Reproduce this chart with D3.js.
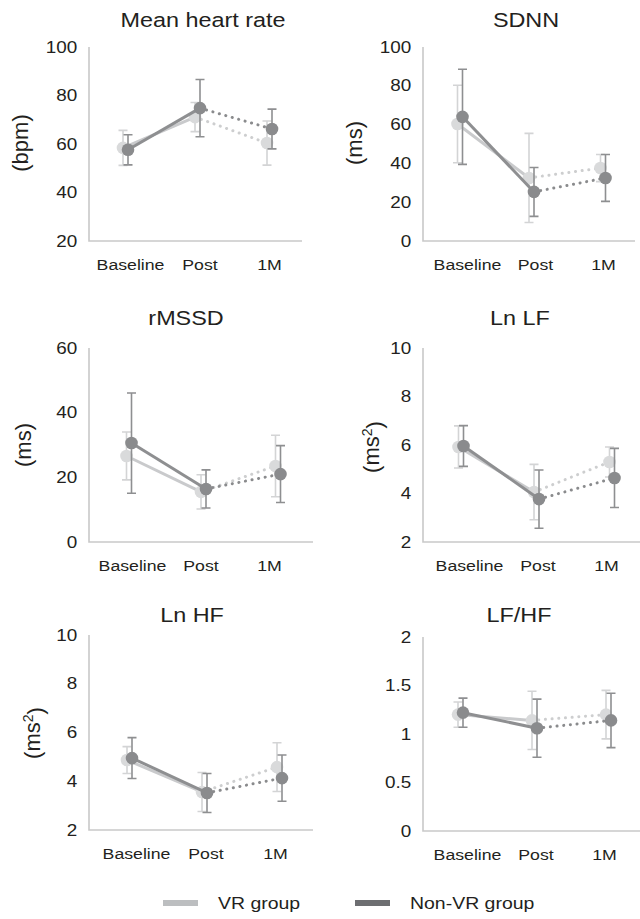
<!DOCTYPE html>
<html>
<head>
<meta charset="utf-8">
<script src="https://cdn.jsdelivr.net/npm/d3@7"></script>
<style>
body { margin: 0; background: #fff; }
text { font-family: "Liberation Sans", Arial, sans-serif; fill: #231f20; }
</style>
</head>
<body>
<div id="chart"></div>
<script>
// chart values
var categories = ["Baseline", "Post", "1M"];
var titles = ["Mean heart rate", "SDNN", "rMSSD", "Ln LF", "Ln HF", "LF/HF"];
var unitBase = ["bpm", "ms", "ms", "ms", "ms", ""];
var unitSup = ["", "", "", "2", "2", ""];
var yTicks = [
    [20, 40, 60, 80, 100],
    [0, 20, 40, 60, 80, 100],
    [0, 20, 40, 60],
    [2, 4, 6, 8, 10],
    [2, 4, 6, 8, 10],
    [0, 0.5, 1, 1.5, 2]
];
var vrMean = [[58.4, 71.1, 60.4], [60.3, 32.5, 37.6], [26.6, 15.5, 23.5], [5.92, 4.06, 5.3], [4.87, 3.56, 4.58], [1.2, 1.14, 1.2]];
var vrSd = [[7.2, 6, 9.1], [20, 23, 7], [7.4, 5.3, 9.5], [0.87, 1.14, 0.62], [0.55, 0.8, 1.0], [0.13, 0.3, 0.25]];
var nonVrMean = [[57.6, 74.8, 66.2], [64, 25.3, 32.5], [30.6, 16.4, 21], [5.96, 3.77, 4.64], [4.95, 3.52, 4.13], [1.22, 1.06, 1.14]];
var nonVrSd = [[6.2, 11.8, 8.2], [24.5, 12.6, 12.1], [15.5, 5.9, 8.8], [0.84, 1.2, 1.22], [0.84, 0.8, 0.95], [0.15, 0.3, 0.28]];
var groupNames = ["VR group", "Non-VR group"];

// panel placement
var layout = [
    { x0: 89, xEnd: 302, top: 47, bottom: 241, first: 125.5, step: 72, lab: [130, 269], tx: 203, ty: 27, ux: 20, uy: 143 },
    { x0: 423, xEnd: 635, top: 47, bottom: 241, first: 460, step: 71.5, lab: [467, 603], tx: 526, ty: 27, ux: 354, uy: 143 },
    { x0: 89, xEnd: 313, top: 348, bottom: 542, first: 129, step: 74.5, lab: [132, 269], tx: 186, ty: 325, ux: 23, uy: 445 },
    { x0: 423, xEnd: 640, top: 348, bottom: 542, first: 461, step: 75.5, lab: [469, 606], tx: 520, ty: 325, ux: 371, uy: 447 },
    { x0: 89, xEnd: 313, top: 635, bottom: 830, first: 129.5, step: 75, lab: [136, 275], tx: 192, ty: 622, ux: 32, uy: 733 },
    { x0: 423, xEnd: 640, top: 637, bottom: 831, first: 460.5, step: 74, lab: [467, 604], tx: 519, ty: 622, ux: 0, uy: 0 }
];

var stretch = "scale(1.18,1)";

var styles = [
    { line: "#c9cacc", dot: "#cdcecf", err: "#d3d4d5", point: "#d9dadb", dx: -2.5 },
    { line: "#8e8f91", dot: "#8a8b8d", err: "#8e8f91", point: "#8a8b8d", dx: 2.5 }
];

var svg = d3.select("#chart").append("svg")
    .attr("width", 640)
    .attr("height", 919)
    .style("background", "#fff");

titles.forEach(function(title, i) {
    var L = layout[i];
    var g = svg.append("g");

    var y = d3.scaleLinear()
        .domain(d3.extent(yTicks[i]))
        .range([L.bottom, L.top]);
    var x = d3.scalePoint()
        .domain(categories)
        .range([L.first, L.first + 2 * L.step]);
    var xLab = d3.scalePoint()
        .domain(categories)
        .range(L.lab);

    // axis lines
    g.append("path")
        .attr("d", "M" + L.x0 + "," + L.top + "V" + L.bottom + "H" + L.xEnd)
        .attr("fill", "none")
        .attr("stroke", "#c9c9c9")
        .attr("stroke-width", 1.6);

    // y tick labels
    var ya = g.append("g")
        .attr("transform", "translate(" + L.x0 + ",0)")
        .call(d3.axisLeft(y).tickValues(yTicks[i]).tickSize(0).tickPadding(10)
            .tickFormat(function(d) { return String(d); }));
    ya.select(".domain").remove();
    ya.selectAll("text")
        .attr("font-size", 16)
        .attr("font-family", null)
        .attr("fill", null)
        .attr("transform", stretch);

    // category labels
    var xa = g.append("g")
        .attr("transform", "translate(0," + L.bottom + ")")
        .call(d3.axisBottom(xLab).tickSize(0).tickPadding(18));
    xa.select(".domain").remove();
    xa.selectAll("text")
        .attr("font-size", 15)
        .attr("font-family", null)
        .attr("fill", null)
        .attr("transform", stretch);

    // title
    g.append("text")
        .attr("transform", "translate(" + L.tx + "," + L.ty + ") scale(1.2,1)")
        .attr("text-anchor", "middle")
        .attr("font-size", 19.5)
        .text(title);

    // unit label
    if (unitBase[i]) {
        var u = g.append("text")
            .attr("transform", "translate(" + L.ux + "," + L.uy + ") rotate(-90)")
            .attr("text-anchor", "middle")
            .attr("dy", "0.35em")
            .attr("font-size", 22);
        u.append("tspan").text("(" + unitBase[i]);
        if (unitSup[i]) {
            u.append("tspan").attr("dy", "-0.45em").attr("font-size", 14).text(unitSup[i]);
            u.append("tspan").attr("dy", "0.45em").text(")");
        } else {
            u.append("tspan").text(")");
        }
    }

    // groups: VR first, Non-VR drawn on top
    [[vrMean[i], vrSd[i]], [nonVrMean[i], nonVrSd[i]]].forEach(function(grp, k) {
        var st = styles[k];
        var pts = categories.map(function(c, j) {
            return { x: x(c) + st.dx, m: grp[0][j], sd: grp[1][j] };
        });
        var line = d3.line()
            .x(function(d) { return d.x; })
            .y(function(d) { return y(d.m); });

        g.append("path")
            .attr("d", line(pts.slice(0, 2)))
            .attr("fill", "none")
            .attr("stroke", st.line)
            .attr("stroke-width", 3);

        g.append("path")
            .attr("d", line(pts.slice(1, 3)))
            .attr("fill", "none")
            .attr("stroke", st.dot)
            .attr("stroke-width", 3)
            .attr("stroke-linecap", "round")
            .attr("stroke-dasharray", "0.1,6.6");

        var eb = g.append("g")
            .attr("stroke", st.err)
            .attr("stroke-width", 1.6)
            .attr("fill", "none");
        eb.selectAll("path")
            .data(pts)
            .enter()
            .append("path")
            .attr("d", function(d) {
                var t = y(d.m + d.sd), b = y(d.m - d.sd);
                return "M" + d.x + "," + t + "V" + b +
                    "M" + (d.x - 4.5) + "," + t + "H" + (d.x + 4.5) +
                    "M" + (d.x - 4.5) + "," + b + "H" + (d.x + 4.5);
            });

        g.selectAll(null)
            .data(pts)
            .enter()
            .append("circle")
            .attr("cx", function(d) { return d.x; })
            .attr("cy", function(d) { return y(d.m); })
            .attr("r", 6.3)
            .attr("fill", st.point);
    });
});

// legend
var legendX = [163, 355];
var legendColors = ["#bcbec0", "#6d6e71"];
var lg = svg.append("g");
groupNames.forEach(function(name, k) {
    lg.append("rect")
        .attr("x", legendX[k])
        .attr("y", 900)
        .attr("width", 35)
        .attr("height", 6)
        .attr("fill", legendColors[k]);
    lg.append("text")
        .attr("transform", "translate(" + (legendX[k] + 55) + ",909) " + stretch)
        .attr("font-size", 16.5)
        .text(name);
});
</script>
</body>
</html>
